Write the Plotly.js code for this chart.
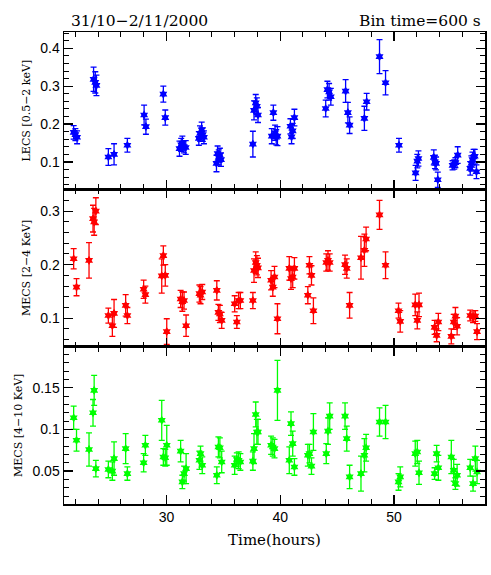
<!DOCTYPE html>
<html>
<head>
<meta charset="utf-8">
<script src="https://cdn.plot.ly/plotly-3.0.1.min.js"></script>
<style>
  html, body { margin: 0; padding: 0; background: #fff; }
  #chart { width: 491px; height: 575px; }
</style>
</head>
<body>
<div id="chart"></div>
<script>
// LECS 0.5-2 keV light curve
const lecsTime = [21.85, 22.0, 22.15, 23.6, 23.75, 23.85, 24.9, 25.4, 26.57, 28.04, 28.2, 29.73, 29.9,
  31.15, 31.3, 31.4, 31.55, 31.7, 32.85, 32.95, 33.1, 33.2, 33.3, 34.4, 34.5, 34.6, 34.7, 34.8,
  37.6, 37.7, 37.85, 37.95, 38.05, 39.26, 39.4, 39.55, 39.65, 39.76, 40.9, 41.0, 41.1, 41.25,
  44.0, 44.15, 44.3, 44.45, 45.75, 45.95, 46.1, 47.4, 47.6, 48.73, 49.26, 50.44,
  51.9, 52.05, 52.15, 53.5, 53.6, 53.7, 53.85, 55.15, 55.3, 55.4, 55.6,
  56.7, 56.8, 56.9, 57.0, 57.1, 57.25];
const lecsRate = [0.178, 0.172, 0.165, 0.318, 0.310, 0.302, 0.113, 0.120, 0.144, 0.224, 0.193, 0.279, 0.217,
  0.135, 0.145, 0.150, 0.140, 0.138, 0.162, 0.175, 0.185, 0.172, 0.165, 0.096, 0.122, 0.112, 0.118, 0.106,
  0.147, 0.236, 0.256, 0.247, 0.224, 0.168, 0.230, 0.177, 0.165, 0.168, 0.194, 0.166, 0.182, 0.217,
  0.241, 0.291, 0.285, 0.272, 0.287, 0.230, 0.197, 0.215, 0.259, 0.378, 0.309, 0.144,
  0.071, 0.102, 0.109, 0.112, 0.100, 0.096, 0.053, 0.091, 0.093, 0.098, 0.118,
  0.083, 0.096, 0.106, 0.113, 0.115, 0.074];
const lecsErr = [0.018, 0.016, 0.017, 0.032, 0.028, 0.027, 0.022, 0.028, 0.018, 0.026, 0.020, 0.021, 0.020,
  0.020, 0.017, 0.018, 0.016, 0.018, 0.018, 0.020, 0.020, 0.018, 0.017, 0.022, 0.020, 0.020, 0.018, 0.018,
  0.034, 0.025, 0.022, 0.022, 0.020, 0.020, 0.020, 0.020, 0.020, 0.025, 0.020, 0.018, 0.020, 0.022,
  0.022, 0.022, 0.022, 0.022, 0.030, 0.027, 0.022, 0.032, 0.022, 0.045, 0.032, 0.018,
  0.020, 0.018, 0.020, 0.020, 0.018, 0.017, 0.020, 0.012, 0.012, 0.013, 0.022,
  0.018, 0.020, 0.020, 0.020, 0.018, 0.018];

// MECS time bins (shared by both MECS bands)
const mecsTime = [21.85, 22.1, 23.2, 23.55, 23.65, 23.8, 24.9, 25.25, 25.4, 26.42, 26.57, 28.0, 28.15,
  29.59, 29.73, 29.9, 30.03, 31.25, 31.4, 31.55, 31.73, 32.9, 33.0, 33.15, 34.43, 34.57, 34.7, 34.86,
  36.0, 36.19, 36.35, 36.5, 37.6, 37.7, 37.85, 37.95, 38.05, 39.2, 39.35, 39.5, 39.76,
  40.8, 40.95, 41.1, 41.25, 42.43, 42.57, 42.75, 42.92, 44.05, 44.2, 44.35, 45.7, 45.85, 46.1,
  47.1, 47.4, 47.55, 48.73, 49.26, 50.4, 50.55, 51.87, 52.05, 52.2, 53.57, 53.75, 53.9,
  55.04, 55.25, 55.4, 55.55, 56.7, 56.95, 57.15, 57.3];

// MECS 2-4 keV
const mecsLowRate = [0.211, 0.158, 0.208, 0.286, 0.280, 0.300, 0.105, 0.086, 0.109, 0.124, 0.105, 0.154, 0.144,
  0.179, 0.217, 0.180, 0.075, 0.136, 0.131, 0.133, 0.086, 0.146, 0.143, 0.149, 0.152, 0.111, 0.108, 0.096,
  0.127, 0.093, 0.133, 0.133, 0.133, 0.189, 0.204, 0.199, 0.194, 0.171, 0.158, 0.177, 0.099,
  0.193, 0.174, 0.177, 0.193, 0.143, 0.199, 0.180, 0.114, 0.204, 0.208, 0.204, 0.200, 0.193, 0.124,
  0.213, 0.227, 0.248, 0.293, 0.199, 0.114, 0.094, 0.125, 0.096, 0.125, 0.083, 0.068, 0.093,
  0.066, 0.093, 0.104, 0.085, 0.105, 0.102, 0.104, 0.075];
const mecsLowErr = [0.019, 0.016, 0.033, 0.025, 0.025, 0.025, 0.014, 0.020, 0.026, 0.020, 0.015, 0.017, 0.016,
  0.032, 0.018, 0.020, 0.024, 0.016, 0.018, 0.016, 0.020, 0.016, 0.016, 0.014, 0.018, 0.015, 0.016, 0.015,
  0.015, 0.012, 0.015, 0.015, 0.015, 0.022, 0.020, 0.018, 0.018, 0.018, 0.017, 0.020, 0.028,
  0.022, 0.020, 0.020, 0.020, 0.016, 0.016, 0.018, 0.024, 0.016, 0.018, 0.016, 0.018, 0.018, 0.024,
  0.040, 0.030, 0.022, 0.027, 0.025, 0.014, 0.020, 0.020, 0.016, 0.022, 0.013, 0.012, 0.016,
  0.014, 0.014, 0.016, 0.016, 0.010, 0.010, 0.010, 0.015];

// MECS 4-10 keV
const mecsHighRate = [0.114, 0.087, 0.076, 0.120, 0.147, 0.053, 0.052, 0.050, 0.065, 0.077, 0.047, 0.060, 0.081,
  0.111, 0.067, 0.066, 0.081, 0.074, 0.037, 0.047, 0.053, 0.063, 0.071, 0.057, 0.045, 0.079, 0.078, 0.061,
  0.057, 0.064, 0.063, 0.061, 0.062, 0.077, 0.118, 0.097, 0.097, 0.081, 0.079, 0.077, 0.147,
  0.063, 0.107, 0.083, 0.055, 0.069, 0.071, 0.056, 0.097, 0.071, 0.098, 0.116, 0.116, 0.089, 0.043,
  0.047, 0.069, 0.078, 0.109, 0.109, 0.037, 0.043, 0.071, 0.073, 0.048, 0.047, 0.071, 0.054,
  0.067, 0.051, 0.035, 0.045, 0.054, 0.035, 0.065, 0.049];
const mecsHighErr = [0.014, 0.013, 0.020, 0.016, 0.018, 0.010, 0.010, 0.011, 0.020, 0.018, 0.008, 0.011, 0.012,
  0.024, 0.010, 0.010, 0.024, 0.013, 0.008, 0.009, 0.018, 0.011, 0.009, 0.010, 0.010, 0.012, 0.012, 0.013,
  0.011, 0.008, 0.010, 0.010, 0.011, 0.018, 0.015, 0.015, 0.015, 0.011, 0.011, 0.011, 0.036,
  0.016, 0.014, 0.015, 0.010, 0.013, 0.011, 0.010, 0.022, 0.012, 0.016, 0.016, 0.016, 0.015, 0.014,
  0.021, 0.020, 0.016, 0.017, 0.020, 0.010, 0.012, 0.015, 0.014, 0.014, 0.007, 0.010, 0.015,
  0.020, 0.013, 0.007, 0.013, 0.010, 0.009, 0.015, 0.014];

function curve(x, y, err, color, xa, ya) {
  return {
    x: x, y: y, xaxis: xa, yaxis: ya,
    type: 'scatter', mode: 'markers',
    marker: { symbol: 'hexagram', size: 7, color: color },
    error_y: { type: 'data', array: err, visible: true, color: color, thickness: 1.3, width: 3 },
    hoverinfo: 'x+y'
  };
}

const traces = [
  curve(mecsTime, mecsHighRate, mecsHighErr, '#00ff00', 'x', 'y'),
  curve(mecsTime, mecsLowRate, mecsLowErr, '#ff0000', 'x2', 'y2'),
  curve(lecsTime, lecsRate, lecsErr, '#0000ff', 'x3', 'y3')
];

const tickFont = { family: 'Liberation Sans, Arial, sans-serif', size: 14, color: '#000' };
const labelFont = { family: 'DejaVu Serif, serif', size: 11, color: '#000' };
const headFont = { family: 'DejaVu Serif, serif', size: 15.5, color: '#000' };

function xAxis(anchor, showLabels) {
  return {
    anchor: anchor,
    range: [21, 58],
    showline: true, linecolor: '#000', linewidth: 1.5, mirror: 'allticks',
    ticks: 'inside', ticklen: 9, tickwidth: 1.2, tickcolor: '#000',
    tick0: 0, dtick: 10,
    minor: { ticks: 'inside', ticklen: 5, tickwidth: 1, tickcolor: '#000', tick0: 0, dtick: 2 },
    showgrid: false, zeroline: false,
    showticklabels: showLabels,
    tickfont: tickFont
  };
}

function yAxis(domain, range, dtick, minorStep, title, anchor) {
  return {
    domain: domain, anchor: anchor, range: range,
    showline: true, linecolor: '#000', linewidth: 1.5, mirror: 'allticks',
    ticks: 'inside', ticklen: 9, tickwidth: 1.2, tickcolor: '#000',
    tick0: 0, dtick: dtick,
    minor: { ticks: 'inside', ticklen: 5, tickwidth: 1, tickcolor: '#000', tick0: 0, dtick: minorStep },
    showgrid: false, zeroline: false,
    tickfont: tickFont,
    title: { text: title, font: labelFont, standoff: 7 }
  };
}

const xMain = xAxis('y', true);
xMain.title = { text: 'Time(hours)', font: { family: 'DejaVu Serif, serif', size: 15, color: '#000' }, standoff: 10 };
const x2 = xAxis('y2', false); x2.matches = 'x';
const x3 = xAxis('y3', false); x3.matches = 'x';

const layout = {
  width: 491, height: 575,
  margin: { l: 64, r: 6, t: 32, b: 71 },
  paper_bgcolor: '#fff', plot_bgcolor: '#fff',
  showlegend: false,
  xaxis: xMain, xaxis2: x2, xaxis3: x3,
  yaxis: yAxis([0, 0.3335], [0.0105, 0.1995], 0.05, 0.01, 'MECS [4\u221210 KeV]', 'x'),
  yaxis2: yAxis([0.3335, 0.667], [0.047, 0.341], 0.1, 0.02, 'MECS [2\u22124 KeV]', 'x2'),
  yaxis3: yAxis([0.667, 1], [0.028, 0.443], 0.1, 0.02, 'LECS [0.5\u22122 keV]', 'x3'),
  annotations: [
    { text: '31/10\u22122/11/2000', xref: 'paper', yref: 'paper', x: 0.012, y: 1, xanchor: 'left', yanchor: 'bottom',
      yshift: 0, showarrow: false, font: headFont },
    { text: 'Bin time=600 s', xref: 'paper', yref: 'paper', x: 0.995, y: 1, xanchor: 'right', yanchor: 'bottom',
      yshift: 0, showarrow: false, font: headFont }
  ]
};

Plotly.newPlot('chart', traces, layout, { displayModeBar: false, staticPlot: true });
</script>
</body>
</html>
